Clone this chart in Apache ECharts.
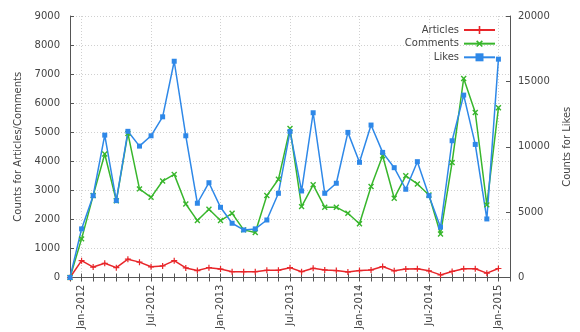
<!DOCTYPE html>
<html>
<head>
<meta charset="utf-8">
<title>Articles / Comments / Likes</title>
<script src="https://cdn.jsdelivr.net/npm/echarts@6/dist/echarts.min.js"></script>
<style>
	html, body { margin: 0; padding: 0; background: #fff; }
	#main { width: 580px; height: 332px; }
</style>
</head>
<body>
<div id="main"></div>
<script type="text/javascript">
	// months, Dec-2011 .. Feb-2015 (last one only pads the axis)
	var months = ['Dec-2011',
		'Jan-2012', 'Feb-2012', 'Mar-2012', 'Apr-2012', 'May-2012', 'Jun-2012',
		'Jul-2012', 'Aug-2012', 'Sep-2012', 'Oct-2012', 'Nov-2012', 'Dec-2012',
		'Jan-2013', 'Feb-2013', 'Mar-2013', 'Apr-2013', 'May-2013', 'Jun-2013',
		'Jul-2013', 'Aug-2013', 'Sep-2013', 'Oct-2013', 'Nov-2013', 'Dec-2013',
		'Jan-2014', 'Feb-2014', 'Mar-2014', 'Apr-2014', 'May-2014', 'Jun-2014',
		'Jul-2014', 'Aug-2014', 'Sep-2014', 'Oct-2014', 'Nov-2014', 'Dec-2014',
		'Jan-2015', 'Feb-2015'];
	var articles = [0, 580, 360, 490, 340, 630, 530, 370, 400, 580, 330, 240, 340,
		290, 200, 200, 200, 250, 250, 340, 200, 320, 260, 240, 190,
		240, 260, 380, 230, 290, 300, 230, 90, 210, 300, 300, 150, 310];
	var comments = [0, 1330, 2820, 4250, 2640, 4960, 3050, 2760, 3320, 3550, 2530, 1960, 2350,
		1960, 2210, 1640, 1550, 2820, 3380, 5130, 2440, 3190, 2420, 2420, 2210,
		1850, 3130, 4190, 2730, 3500, 3220, 2840, 1500, 3960, 6850, 5680, 2500, 5840];
	var likes = [0, 3720, 6260, 10890, 5880, 11180, 10050, 10840, 12290, 16540, 10840, 5680, 7250,
		5370, 4150, 3640, 3720, 4400, 6440, 11170, 6620, 12600, 6440, 7210, 11100,
		8810, 11660, 9570, 8400, 6750, 8860, 6260, 3850, 10460, 13950, 10180, 4480, 16700];

	var plusPath = 'path://M4,0H6V4H10V6H6V10H4V6H0V4H4Z';
	var axisColor = '#555';
	var textColor = '#444';
	var gridColor = '#d0d0d0';
	var font = 'DejaVu Sans';

	// label every 6 months starting from Jan-2012
	function halfYear(idx) {
		return idx >= 1 && (idx - 1) % 6 === 0;
	}
	// plain numbers, no thousands separator
	function plain(v) {
		return String(v);
	}

	var chart = echarts.init(document.getElementById('main'));
	var option = {
		animation: false,
		textStyle: { fontFamily: font },
		grid: { left: 70, right: 64, top: 16, bottom: 54 },
		legend: {
			orient: 'vertical',
			right: 79,
			top: 20,
			align: 'right',
			itemWidth: 31,
			itemHeight: 10,
			itemGap: 3,
			textStyle: { fontFamily: font, fontSize: 10, color: textColor },
			data: ['Articles', 'Comments', 'Likes']
		},
		xAxis: [{
			type: 'category',
			boundaryGap: false,
			data: months,
			axisLine: { lineStyle: { color: axisColor } },
			axisTick: { inside: true, interval: 0, length: 4, lineStyle: { color: axisColor } },
			axisLabel: {
				interval: halfYear,
				rotate: 90,
				margin: 7,
				fontFamily: font,
				fontSize: 10,
				color: textColor
			},
			splitLine: {
				show: true,
				interval: halfYear,
				lineStyle: { color: gridColor, type: [1, 2] }
			}
		}, {
			type: 'category',
			position: 'top',
			boundaryGap: false,
			data: months,
			axisLine: { lineStyle: { color: axisColor } },
			axisTick: { inside: true, interval: 0, length: 4, lineStyle: { color: axisColor } },
			axisLabel: { show: false },
			splitLine: { show: false }
		}],
		yAxis: [{
			type: 'value',
			min: 0,
			max: 9000,
			interval: 1000,
			name: 'Counts for Articles/Comments',
			nameLocation: 'middle',
			nameGap: 46,
			nameTextStyle: { fontFamily: font, fontSize: 10, color: textColor },
			axisLine: { show: true, lineStyle: { color: axisColor } },
			axisTick: { show: true, inside: true, length: 4, lineStyle: { color: axisColor } },
			axisLabel: { margin: 10, formatter: plain, fontFamily: font, fontSize: 10, color: textColor },
			splitLine: { lineStyle: { color: gridColor, type: [1, 2] } }
		}, {
			type: 'value',
			min: 0,
			max: 20000,
			interval: 5000,
			position: 'right',
			name: 'Counts for Likes',
			nameLocation: 'middle',
			nameRotate: 90,
			nameGap: 52,
			nameTextStyle: { fontFamily: font, fontSize: 10, color: textColor },
			axisLine: { show: true, lineStyle: { color: axisColor } },
			axisTick: { show: true, inside: true, length: 4, lineStyle: { color: axisColor } },
			axisLabel: { margin: 8, formatter: plain, fontFamily: font, fontSize: 10, color: textColor },
			splitLine: { show: false }
		}],
		series: [{
			name: 'Articles',
			type: 'line',
			data: articles,
			yAxisIndex: 0,
			color: '#e8262a',
			symbol: plusPath,
			symbolSize: 6,
			showAllSymbol: true,
			lineStyle: { width: 1.5 }
		}, {
			name: 'Comments',
			type: 'line',
			data: comments,
			yAxisIndex: 0,
			color: '#38b62c',
			symbol: plusPath,
			symbolRotate: 45,
			symbolSize: 7,
			showAllSymbol: true,
			lineStyle: { width: 1.5 }
		}, {
			name: 'Likes',
			type: 'line',
			data: likes,
			yAxisIndex: 1,
			color: '#2e88e8',
			symbol: 'rect',
			symbolSize: 5,
			showAllSymbol: true,
			lineStyle: { width: 1.5 }
		}]
	};
	chart.setOption(option);
</script>
</body>
</html>
